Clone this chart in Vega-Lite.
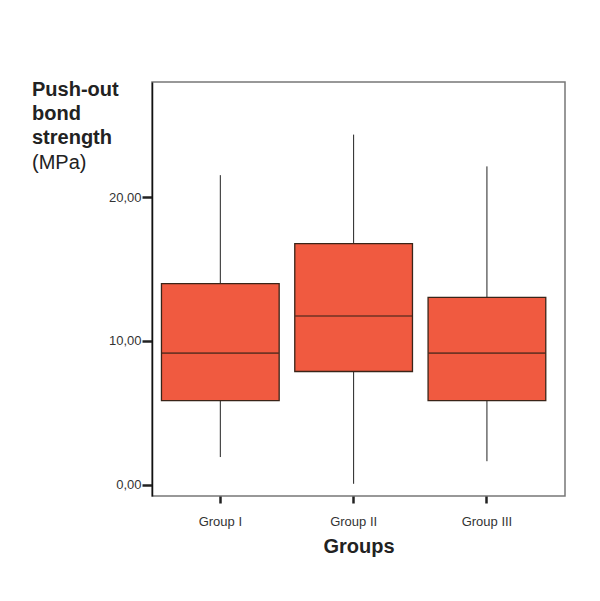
{
  "$schema": "https://vega.github.io/schema/vega-lite/v6.json",
  "autosize": {"type": "none"},
  "padding": {"left": 152, "top": 82, "right": 35, "bottom": 105},
  "width": 413,
  "height": 414,
  "background": "white",
  "title": {
    "text": ["Push-out", "bond", "strength"],
    "subtitle": "\u2002(MPa)",
    "anchor": "start",
    "frame": "group",
    "orient": "top",
    "dx": -120,
    "dy": 90.5,
    "offset": 0,
    "font": "Liberation Sans",
    "fontSize": 20,
    "fontWeight": "bold",
    "lineHeight": 24.3,
    "color": "#222222",
    "subtitleFont": "Liberation Sans",
    "subtitleFontSize": 20,
    "subtitleFontWeight": "normal",
    "subtitleColor": "#222222",
    "subtitlePadding": 4
  },
  "data": {
    "values": [
      {"group": "Group I", "min": 1.91, "q1": 5.83, "median": 9.14, "q3": 13.98, "max": 21.52},
      {"group": "Group II", "min": 0.05, "q1": 7.86, "median": 11.72, "q3": 16.75, "max": 24.34},
      {"group": "Group III", "min": 1.62, "q1": 5.83, "median": 9.14, "q3": 13.02, "max": 22.13}
    ]
  },
  "encoding": {
    "x": {
      "field": "group",
      "type": "nominal",
      "sort": null,
      "scale": {"paddingInner": 0.117, "paddingOuter": 0.1076, "align": 0.33},
      "axis": {
        "title": "Groups",
        "titleFont": "Liberation Sans",
        "titleFontSize": 20,
        "titleFontWeight": "bold",
        "titleColor": "#222222",
        "titlePadding": 8,
        "labelAngle": 0,
        "labelFont": "Liberation Sans",
        "labelFontSize": 13,
        "labelColor": "#333333",
        "labelPadding": 12,
        "tickColor": "#222222",
        "tickWidth": 2.5,
        "tickSize": 7,
        "domain": false,
        "grid": false
      }
    }
  },
  "layer": [
    {
      "mark": {"type": "rule", "color": "#222222", "strokeWidth": 1},
      "encoding": {
        "y": {
          "field": "min",
          "type": "quantitative",
          "scale": {"domain": [-0.8, 28.0], "nice": false, "zero": false},
          "axis": {
            "title": null,
            "values": [0, 10, 20],
            "labelExpr": "replace(format(datum.value, '.2f'), '.', ',')",
            "labelFont": "Liberation Sans",
            "labelFontSize": 13,
            "labelColor": "#333333",
            "labelPadding": 1,
            "tickColor": "#222222",
            "tickWidth": 2.5,
            "tickSize": 10,
            "domainColor": "#111111",
            "domainWidth": 1.5,
            "grid": false
          }
        },
        "y2": {"field": "max"}
      }
    },
    {
      "mark": {"type": "bar", "fill": "#F05A40", "stroke": "#3a2418", "strokeWidth": 1.3, "width": {"band": 1}},
      "encoding": {
        "y": {"field": "q1", "type": "quantitative"},
        "y2": {"field": "q3"}
      }
    },
    {
      "mark": {"type": "tick", "color": "#3a2418", "thickness": 1.6, "size": 117},
      "encoding": {
        "y": {"field": "median", "type": "quantitative"}
      }
    }
  ],
  "config": {
    "view": {"stroke": "#777777", "strokeWidth": 1.5}
  }
}
